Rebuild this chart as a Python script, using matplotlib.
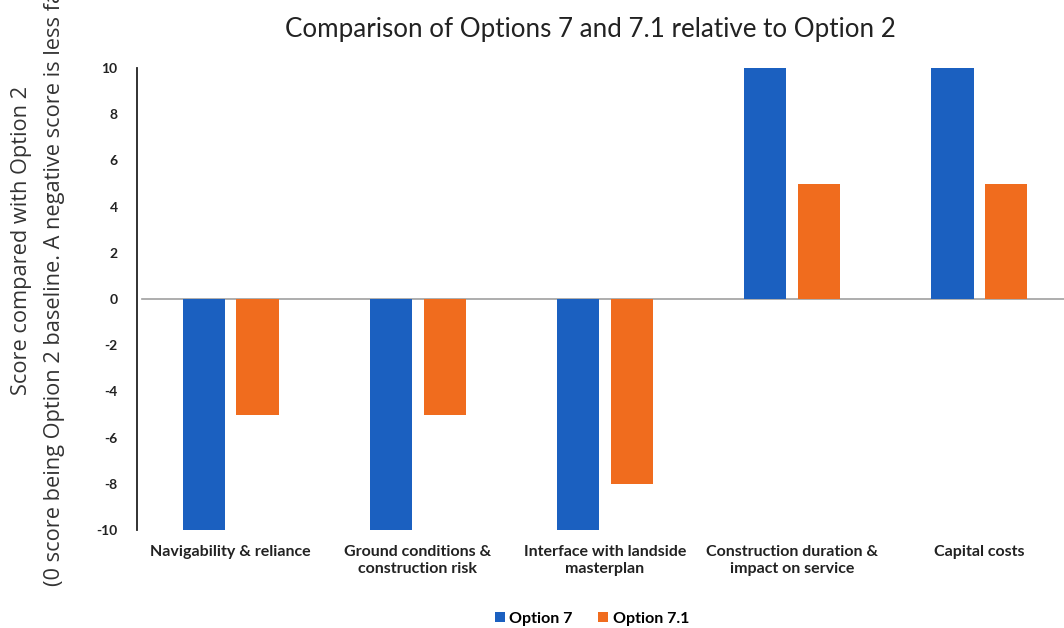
import numpy as np
import matplotlib
matplotlib.use("Agg")
import matplotlib.pyplot as plt

categories = ["Navigability & reliance",
              "Ground conditions &\nconstruction risk",
              "Interface with landside\nmasterplan",
              "Construction duration &\nimpact on service",
              "Capital costs"]
option_7 = [-10, -10, -10, 10, 10]
option_7_1 = [-5, -5, -8, 5, 5]
series_names = ["Option 7", "Option 7.1"]
yticks = [-10, -8, -6, -4, -2, 0, 2, 4, 6, 8, 10]
ylabel_1 = "Score compared with Option 2"
ylabel_2 = "(0 score being Option 2 baseline. A negative score is less favourable)"

blue = "#1b60c0"
orange = "#f06c1e"

plt.rcParams["font.family"] = ["Lato", "DejaVu Sans"]

fig = plt.figure(figsize=(10.64, 6.28), dpi=100)
ax = fig.add_axes([137 / 1064, 98 / 628, 936 / 1064, 462 / 628])

x = np.arange(len(categories))
w = 0.225
off = 0.144
ax.bar(x - off, option_7, width=w, color=blue, label=series_names[0], zorder=3)
ax.bar(x + off, option_7_1, width=w, color=orange, label=series_names[1], zorder=3)

ax.set_xlim(-0.5, len(categories) - 0.5)
ax.set_ylim(-10, 10)
ax.set_yticks(yticks)
ax.set_yticklabels([str(v) for v in yticks], fontsize=10, fontweight="bold", color="#222222")
ax.tick_params(axis="y", length=0, pad=14)

ax.set_xticks(x)
ax.set_xticklabels(categories, fontsize=11.5, fontweight="bold", color="#222222", linespacing=1.25)
ax.tick_params(axis="x", length=0, pad=11)

for s in ["top", "right", "bottom"]:
    ax.spines[s].set_visible(False)
ax.spines["left"].set_color("#222222")
ax.spines["left"].set_linewidth(1.3)
ax.axhline(0, color="#a0a0a0", linewidth=1.2, zorder=2, xmin=0.005)

fig.text(590 / 1064, 1 - 29 / 628, "Comparison of Options 7 and 7.1 relative to Option 2",
         ha="center", va="center", fontsize=18.7, color="#222222")

# y label in two lines, both centred; the long one runs off the top like the original
for xpos, txt in [(22, ylabel_1), (55, ylabel_2)]:
    fig.text(xpos / 1064, 1 - 240 / 628, txt, rotation=90, ha="center", va="center",
             fontsize=15.7, color="#333333", family=["Open Sans", "DejaVu Sans"])

fig.legend(loc="center", bbox_to_anchor=(592 / 1064, 1 - 619 / 628), ncol=2, frameon=False,
           handlelength=0.6, handleheight=0.6, handletextpad=0.3, columnspacing=1.6,
           prop={"weight": "bold", "size": 11.5})

fig.savefig("out.png", dpi=100, facecolor="white")
